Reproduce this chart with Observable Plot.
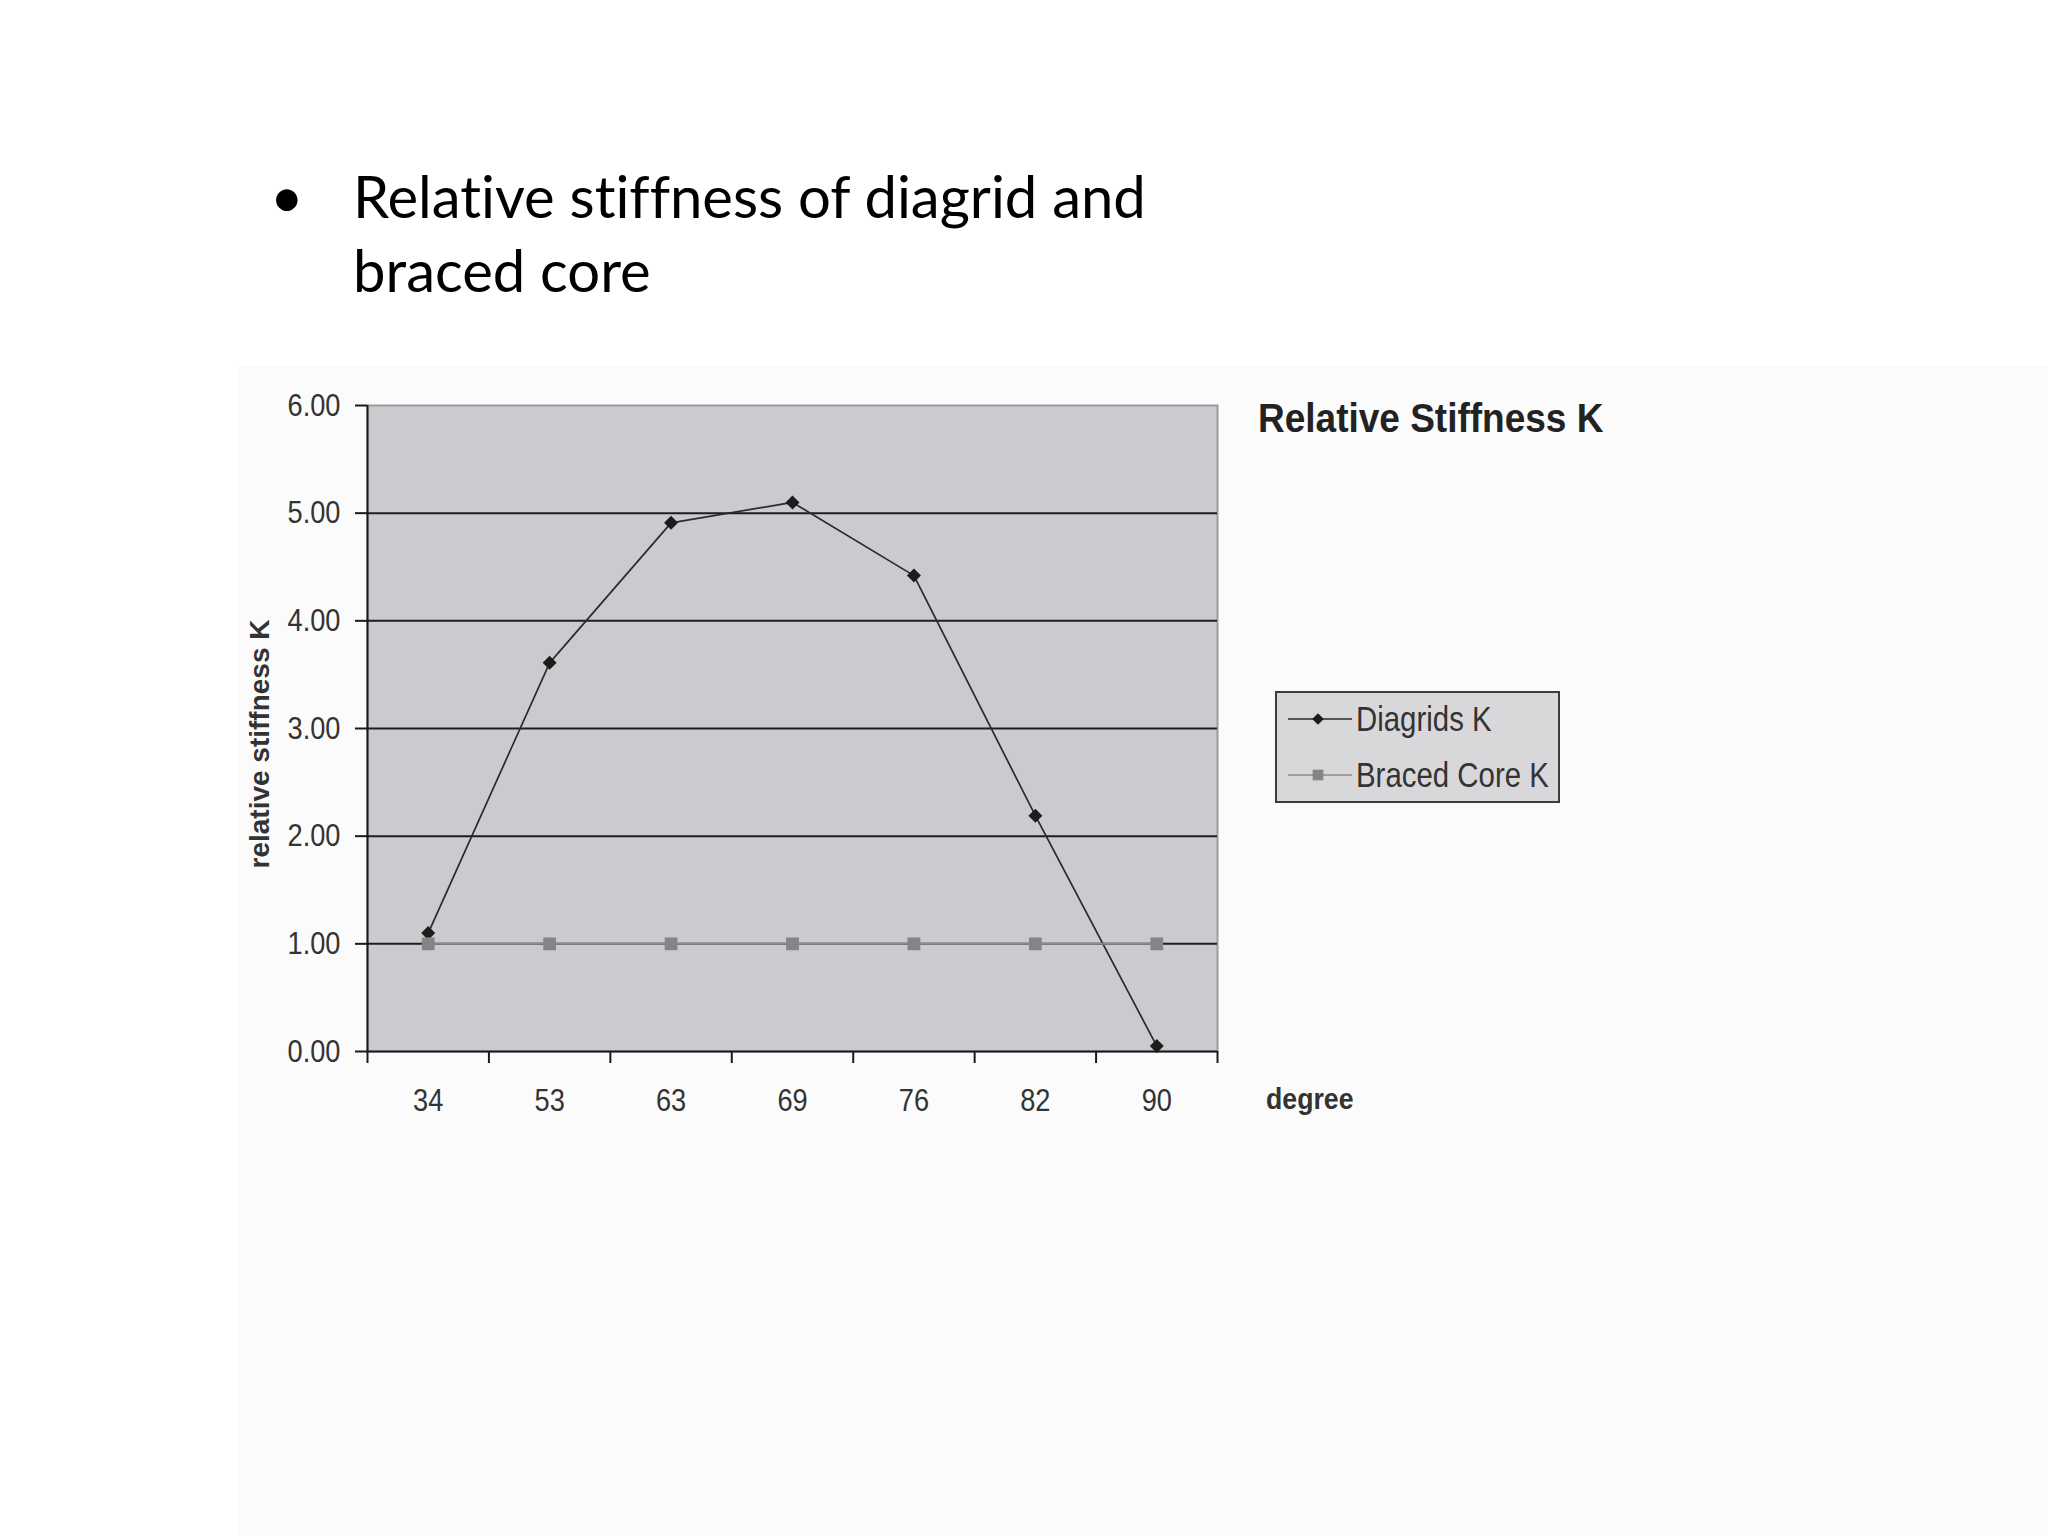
<!DOCTYPE html>
<html>
<head>
<meta charset="utf-8">
<script src="https://cdn.jsdelivr.net/npm/d3@7"></script>
<script src="https://cdn.jsdelivr.net/npm/@observablehq/plot@0.6"></script>
<style>
  html, body { margin: 0; padding: 0; background: #ffffff; }
  #page { position: relative; width: 2048px; height: 1536px; overflow: hidden; font-family: "Liberation Sans", Arial, sans-serif; }
  #bg { position: absolute; left: 239px; top: 366px; right: 0; bottom: 0; background: #fbfbfb; }
  #chart { position: absolute; left: 0; top: 0; }
  .slide-bullet { position: absolute; left: 270px; top: 159px; font-family: Lato, "Open Sans", sans-serif; font-size: 58px; line-height: 74px; color: #000; }
  .slide-text { position: absolute; left: 353px; top: 159px; font-family: Lato, "Open Sans", sans-serif; font-size: 58px; line-height: 74px; color: #000; white-space: nowrap; font-variant-ligatures: no-common-ligatures; font-feature-settings: "liga" 0, "clig" 0; }
  .chart-title { position: absolute; left: 1258px; top: 398px; font-weight: bold; font-size: 40px; line-height: 40px; color: #222; white-space: nowrap; transform: scaleX(0.925); transform-origin: left center; }
  .x-title { position: absolute; left: 1266px; top: 1085px; font-weight: bold; font-size: 29px; line-height: 29px; color: #333; transform: scaleX(0.92); transform-origin: left center; }
  .y-title { position: absolute; left: 110px; top: 731px; width: 300px; height: 26px; text-align: center; font-weight: bold; font-size: 28px; line-height: 26px; color: #333; transform: rotate(-90deg); transform-origin: 150px 13px; white-space: nowrap; }
  .legend { position: absolute; left: 1275px; top: 691px; width: 285px; height: 112px; box-sizing: border-box; background: #d8d8db; border: 2px solid #3c3c3c; }
  .legend-row { position: absolute; left: 11px; height: 36px; display: flex; align-items: center; }
  .legend-row span { display: inline-block; font-size: 35px; color: #333; margin-left: 4px; white-space: nowrap; transform: scaleX(0.84); transform-origin: left center; }
</style>
</head>
<body>
<div id="page">
  <div id="bg"></div>
  <div class="slide-bullet">•</div>
  <div class="slide-text">Relative stiffness of diagrid and<br>braced core</div>
  <div id="chart"></div>
  <div class="chart-title">Relative Stiffness K</div>
  <div class="x-title">degree</div>
  <div class="y-title">relative stiffness K</div>
  <div class="legend" id="legend"></div>
</div>
<script>
// ---- data ----
const degrees = ["34", "53", "63", "69", "76", "82", "90"];
const diagridK = [1.10, 3.61, 4.91, 5.10, 4.42, 2.19, 0.05];
const bracedCoreK = [1.00, 1.00, 1.00, 1.00, 1.00, 1.00, 1.00];
const yTicks = [0, 1, 2, 3, 4, 5, 6];
const seriesNames = ["Diagrids K", "Braced Core K"];

// ---- tables ----
const diagRows = degrees.map((d, i) => ({i, degree: d, k: diagridK[i]}));
const bracedRows = degrees.map((d, i) => ({i, degree: d, k: bracedCoreK[i]}));
const boundaries = degrees.map((_, i) => i - 0.5).concat([degrees.length - 0.5]);

const diagStyle = {stroke: "#2a2a2a", strokeWidth: 1.7, symbol: "diamond2", r: 6.3, fill: "#1c1c1c"};
const bracedStyle = {stroke: "#8c8c8c", strokeWidth: 2, symbol: "square", r: 7.2, fill: "#858585"};

const chart = Plot.plot({
  width: 2048,
  height: 1160,
  marginLeft: 367,
  marginRight: 831,
  marginTop: 405,
  marginBottom: 109,
  style: {background: "transparent", fontFamily: "'Liberation Sans', Arial, sans-serif", color: "#333"},
  x: {type: "linear", domain: [-0.5, degrees.length - 0.5]},
  y: {type: "linear", domain: [0, 6]},
  marks: [
    Plot.frame({fill: "#cacbce", stroke: "#9c9c9c", strokeWidth: 2}),
    Plot.ruleY(yTicks.filter(v => v > 0 && v < 6), {stroke: "#1e1e1e", strokeWidth: 2}),
    Plot.ruleY([0], {stroke: "#1a1a1a", strokeWidth: 2}),
    Plot.ruleX([-0.5], {stroke: "#1a1a1a", strokeWidth: 2}),
    Plot.axisY({ticks: yTicks, tickFormat: d3.format(".2f"), tickSize: 12, tickPadding: 15, stroke: "#1a1a1a", strokeWidth: 2, fill: "#333", fontSize: 32, label: null}),
    Plot.axisX({ticks: boundaries, tickSize: 12, tickFormat: () => "", stroke: "#1a1a1a", strokeWidth: 2, label: null}),
    Plot.axisX({ticks: diagRows.map(d => d.i), tickSize: 0, tickPadding: 37, tickFormat: i => degrees[i], fill: "#333", fontSize: 32, label: null}),
    Plot.line(diagRows, {x: "i", y: "k", stroke: diagStyle.stroke, strokeWidth: diagStyle.strokeWidth}),
    Plot.line(bracedRows, {x: "i", y: "k", stroke: bracedStyle.stroke, strokeWidth: bracedStyle.strokeWidth}),
    Plot.dot(diagRows, {x: "i", y: "k", symbol: diagStyle.symbol, r: diagStyle.r, fill: diagStyle.fill, stroke: "none"}),
    Plot.dot(bracedRows, {x: "i", y: "k", symbol: bracedStyle.symbol, r: bracedStyle.r, fill: bracedStyle.fill, stroke: "none"})
  ]
});
document.getElementById("chart").appendChild(chart);

// condense tick labels horizontally (the original uses a narrow face)
d3.select(chart).selectAll("text").each(function () {
  const content = (this.textContent || "").trim();
  if (!content) return;
  const len = this.getComputedTextLength();
  if (len > 0) {
    this.setAttribute("textLength", (len * 0.85).toFixed(2));
    this.setAttribute("lengthAdjust", "spacingAndGlyphs");
  }
});

// ---- legend ----
const legendItems = [
  {name: seriesNames[0], style: diagStyle, top: 8},
  {name: seriesNames[1], style: bracedStyle, top: 64}
];
const legend = d3.select("#legend");
legendItems.forEach(item => {
  const row = legend.append("div").attr("class", "legend-row").style("top", item.top + "px");
  const svg = row.append("svg").attr("width", 64).attr("height", 36);
  svg.append("line").attr("x1", 0).attr("x2", 64).attr("y1", 18).attr("y2", 18)
    .attr("stroke", item.style.stroke).attr("stroke-width", item.style.strokeWidth * 0.8);
  const sym = item.style.symbol === "diamond2" ? d3.symbolDiamond2 : d3.symbolSquare;
  svg.append("path").attr("transform", "translate(30,18)")
    .attr("d", d3.symbol(sym, Math.PI * item.style.r * item.style.r * 0.7)())
    .attr("fill", item.style.fill);
  row.append("span").text(item.name);
});
</script>
</body>
</html>
